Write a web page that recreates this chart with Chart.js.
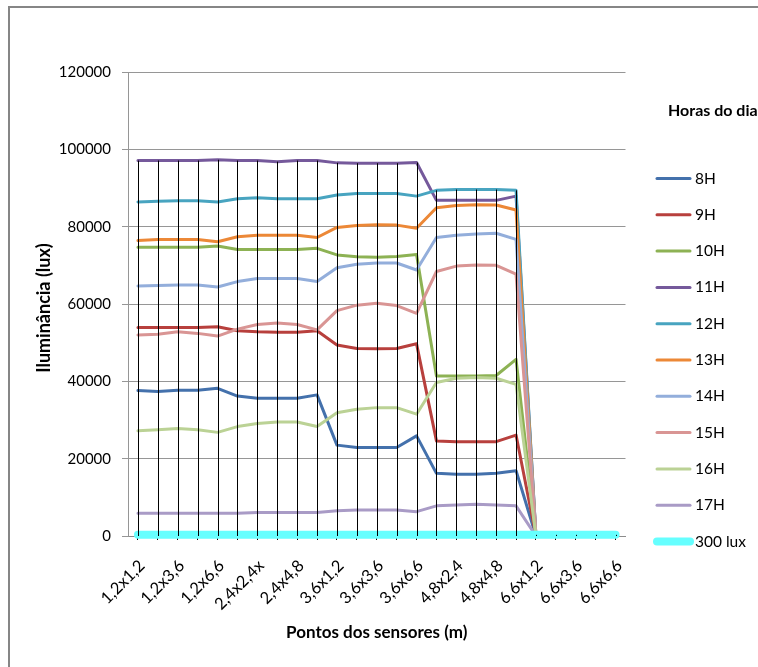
<!DOCTYPE html>
<html>
<head>
<meta charset="utf-8">
<script src="https://cdn.jsdelivr.net/npm/chart.js@4/dist/chart.umd.min.js"></script>
<style>
  html, body { margin: 0; padding: 0; background: #ffffff; }
  #wrap { width: 758px; height: 667px; position: relative; }
</style>
</head>
<body>
<div id="wrap"><canvas id="c" width="758" height="667"></canvas></div>
<script>
// Sensor grid positions (m)
const categories = [
  '1,2x1,2','1,2x2,4','1,2x3,6','1,2x4,8','1,2x6,6',
  '2,4x1,2','2,4x2,4x','2,4x3,6','2,4x4,8','2,4x6,6',
  '3,6x1,2','3,6x2,4','3,6x3,6','3,6x4,8','3,6x6,6',
  '4,8x1,2','4,8x2,4','4,8x3,6','4,8x4,8','4,8x6,6',
  '6,6x1,2','6,6x2,4','6,6x3,6','6,6x4,8','6,6x6,6'
];

// Illuminance (lux) per hour of the day
const h8  = [37600,37400,37700,37700,38200,36200,35600,35600,35600,36500,23500,22900,22900,22900,25900,16200,16000,16000,16200,16900,0,0,0,0,0];
const h9  = [53900,53900,53900,53900,54100,53100,52800,52700,52700,53100,49400,48500,48400,48500,49700,24600,24400,24400,24400,26100,0,0,0,0,0];
const h10 = [74650,74650,74650,74650,75000,74100,74100,74100,74100,74400,72700,72200,72100,72300,72800,41400,41400,41400,41500,45700,0,0,0,0,0];
const h11 = [97100,97100,97100,97100,97300,97100,97100,96800,97100,97100,96500,96400,96400,96400,96600,86800,86800,86800,86800,87900,0,0,0,0,0];
const h12 = [86400,86600,86700,86700,86400,87200,87500,87200,87200,87200,88200,88600,88600,88600,87900,89400,89600,89600,89600,89400,0,0,0,0,0];
const h13 = [76400,76700,76700,76700,76100,77400,77800,77800,77800,77200,79800,80300,80500,80400,79600,84900,85500,85700,85600,84300,0,0,0,0,0];
const h14 = [64650,64800,64900,64900,64400,65800,66600,66600,66600,65800,69400,70300,70600,70600,68800,77200,77800,78100,78300,76700,0,0,0,0,0];
const h15 = [52000,52200,52800,52400,51700,53500,54700,55100,54700,53300,58300,59700,60200,59600,57600,68400,69800,70100,70000,67700,0,0,0,0,0];
const h16 = [27200,27500,27800,27500,26800,28300,29100,29500,29500,28300,31900,32800,33200,33200,31500,39700,40800,41000,40800,39200,0,0,0,0,0];
const h17 = [5900,5900,5900,5900,5900,5900,6100,6100,6100,6100,6500,6700,6700,6700,6300,7800,8000,8200,8000,7800,0,0,0,0,0];
const ref300 = [300,300,300,300,300,300,300,300,300,300,300,300,300,300,300,300,300,300,300,300,300,300,300,300,300];

const seriesNames = ['8H','9H','10H','11H','12H','13H','14H','15H','16H','17H','300 lux'];
const seriesData = [h8,h9,h10,h11,h12,h13,h14,h15,h16,h17,ref300];
const seriesColors = ['#4471AC','#B8403D','#8DB254','#75599B','#48A4C0','#EC8837','#93AEDB','#D99594','#BBD295','#A99BC6','#66FFFF'];

const yTicks = [0,20000,40000,60000,80000,100000,120000];

const FONT = 'Lato, "Open Sans", "Liberation Sans", sans-serif';

const datasets = seriesNames.map((name, i) => ({
  label: name,
  data: seriesData[i],
  borderColor: seriesColors[i],
  backgroundColor: seriesColors[i],
  borderWidth: i === 10 ? 8 : 3,
  borderCapStyle: 'round',
  borderJoinStyle: 'round',
  pointRadius: 0,
  pointHoverRadius: 0,
  tension: 0,
  fill: false,
  clip: false,
  order: seriesNames.length - 1 - i
}));

// Vertical drop lines from the highest value at each category down to the axis
const dropLines = {
  id: 'dropLines',
  afterDatasetsDraw(chart) {
    const { ctx, chartArea } = chart;
    const xs = chart.scales.x, ys = chart.scales.y;
    ctx.save();
    ctx.strokeStyle = '#000000';
    ctx.lineWidth = 1;
    categories.forEach((_, idx) => {
      let max = -Infinity;
      seriesData.forEach(arr => { if (arr[idx] != null && arr[idx] > max) max = arr[idx]; });
      if (!isFinite(max)) return;
      const x = Math.round(xs.getPixelForValue(idx)) + 0.5;
      ctx.beginPath();
      ctx.moveTo(x, ys.getPixelForValue(max));
      ctx.lineTo(x, chartArea.bottom);
      ctx.stroke();
    });
    ctx.restore();
  }
};

// Legend block on the right, vertical axis title and the outer chart frame
const sideLegend = {
  id: 'sideLegend',
  afterDraw(chart) {
    const { ctx } = chart;
    ctx.save();
    // frame
    ctx.strokeStyle = '#868686';
    ctx.lineWidth = 2;
    ctx.beginPath();
    ctx.moveTo(9, 667);
    ctx.lineTo(9, 7);
    ctx.lineTo(758, 7);
    ctx.stroke();

    // vertical axis title
    ctx.save();
    ctx.translate(44, 308);
    ctx.rotate(-Math.PI / 2);
    ctx.fillStyle = '#000000';
    ctx.font = 'bold 18px ' + FONT;
    ctx.textAlign = 'center';
    ctx.textBaseline = 'middle';
    ctx.fillText('Iluminância (lux)', 0, 0);
    ctx.restore();

    ctx.fillStyle = '#000000';
    ctx.textBaseline = 'middle';
    ctx.textAlign = 'left';
    ctx.font = 'bold 16px ' + FONT;
    ctx.fillText('Horas do dia', 668, 111);

    ctx.font = '15.5px ' + FONT;
    chart.data.datasets.forEach((ds, i) => {
      const y = 178.5 + i * 36.3;
      ctx.strokeStyle = ds.borderColor;
      ctx.lineWidth = ds.borderWidth;
      ctx.lineCap = 'round';
      ctx.beginPath();
      ctx.moveTo(657, y);
      ctx.lineTo(690, y);
      ctx.stroke();
      ctx.fillStyle = '#000000';
      ctx.fillText(ds.label, 695, y);
    });
    ctx.restore();
  }
};

new Chart(document.getElementById('c'), {
  type: 'line',
  data: { labels: categories, datasets },
  plugins: [dropLines, sideLegend],
  options: {
    responsive: false,
    animation: false,
    events: [],
    layout: { padding: { left: 0, right: 132.5, top: 72, bottom: 0 } },
    plugins: { legend: { display: false }, tooltip: { enabled: false }, title: { display: false } },
    scales: {
      x: {
        type: 'category',
        offset: true,
        grid: { display: true, drawOnChartArea: false, drawTicks: true, tickLength: 4, color: '#000000', offset: false },
        border: { display: true, color: '#8c8c8c', width: 1 },
        ticks: {
          autoSkip: false,
          minRotation: 45,
          maxRotation: 45,
          padding: 16,
          labelOffset: 4,
          color: '#000000',
          font: { family: FONT, size: 16.5 },
          callback: (v, idx) => (idx % 2 === 0 ? categories[idx] : '')
        },
        title: {
          display: true,
          text: 'Pontos dos sensores (m)',
          color: '#000000',
          font: { family: FONT, size: 17, weight: 'bold' },
          padding: { top: 0, bottom: 24 }
        },
        afterFit(scale) { scale.height = 131; }
      },
      y: {
        min: 0,
        max: 120000,
        afterBuildTicks(scale) { scale.ticks = yTicks.map(v => ({ value: v })); },
        grid: { color: '#969696', lineWidth: 1, tickLength: 6, drawTicks: true },
        border: { display: true, color: '#969696', width: 1 },
        ticks: {
          padding: 11,
          color: '#000000',
          font: { family: FONT, size: 15 },
          callback: v => String(v)
        },
        title: { display: false },
        afterFit(scale) { scale.width = 128; }
      }
    }
  }
});
</script>
</body>
</html>
